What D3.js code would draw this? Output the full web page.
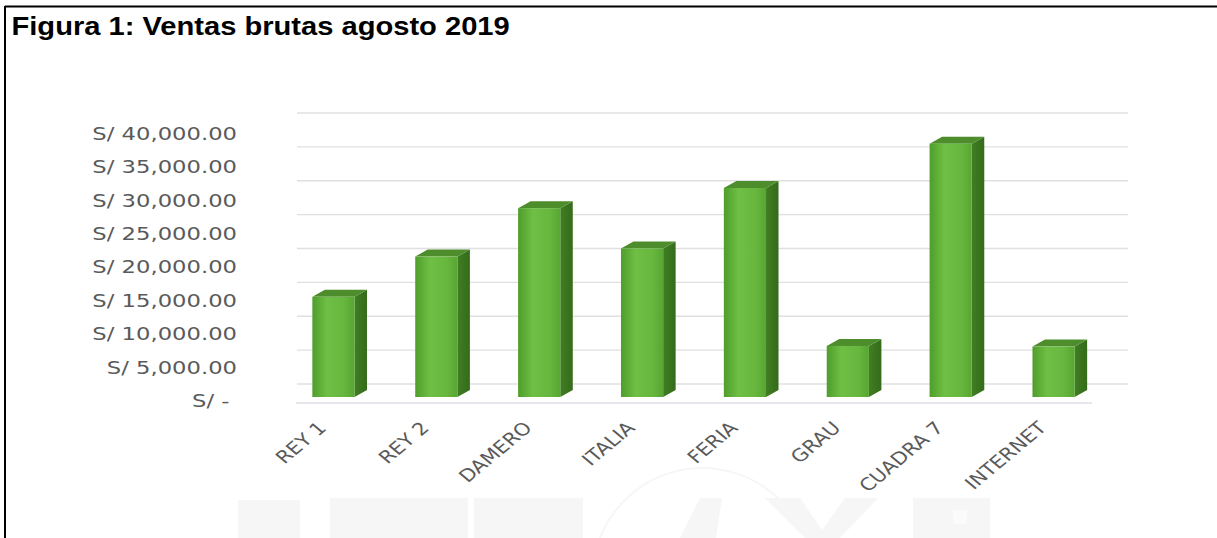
<!DOCTYPE html>
<html>
<head>
<meta charset="utf-8">
<script src="https://cdn.jsdelivr.net/npm/d3@7"></script>
<style>
  html, body { margin: 0; padding: 0; background: #ffffff; }
  svg { display: block; }
</style>
</head>
<body>
<svg id="chart" width="1217" height="538"></svg>
<script>
// Ventas brutas por tienda, agosto 2019 (soles)
const categories = ["REY 1", "REY 2", "DAMERO", "ITALIA", "FERIA", "GRAU", "CUADRA 7", "INTERNET"];
const ventas = [14900, 20900, 28100, 22100, 31100, 7600, 37700, 7500];
const yTicks = [0, 5000, 10000, 15000, 20000, 25000, 30000, 35000, 40000];
const titleText = "Figura 1: Ventas brutas agosto 2019";

const svg = d3.select("#chart");
const W = 1217, H = 538;

// frame (top and left rule)
svg.append("line").attr("x1", 5).attr("y1", 6.5).attr("x2", W).attr("y2", 6.5)
  .attr("stroke", "#000").attr("stroke-width", 2);
svg.append("line").attr("x1", 5).attr("y1", 6).attr("x2", 5).attr("y2", H)
  .attr("stroke", "#000").attr("stroke-width", 2);

// faint emblem behind the lower edge
const wm = svg.append("g").attr("fill", "#f6f6f6");
wm.append("path").attr("d", "M238,538 L238,500 L300,500 L300,538 Z");
wm.append("path").attr("d", "M330,538 L330,498 L468,498 L468,538 Z");
wm.append("path").attr("d", "M474,538 L474,498 L583,498 L583,538 Z");
wm.append("path").attr("d", "M680,538 L700,498 L722,498 L716,538 Z");
wm.append("path").attr("d", "M765,498 L800,498 L822,530 L845,498 L878,498 L840,538 L805,538 Z");
wm.append("path").attr("d", "M913,538 L913,498 L990,498 L990,538 Z");
svg.append("path").attr("d", "M600,538 A 110 110 0 0 1 780,500")
  .attr("fill", "none").attr("stroke", "#f6f6f6").attr("stroke-width", 2);
svg.append("rect").attr("x", 953).attr("y", 510).attr("width", 14).attr("height", 14).attr("fill", "#fbfbfb");

// title
svg.append("text")
  .attr("transform", "translate(11.5,35) scale(1.165,1)")
  .attr("font-family", "Liberation Sans, Arial, sans-serif")
  .attr("font-weight", "bold")
  .attr("font-size", 25)
  .attr("fill", "#000")
  .text(titleText);

// scales
const x = d3.scaleBand().domain(categories).range([282, 1105]).paddingInner(0.59).paddingOuter(0.295);
const yBar = d3.scaleLinear().domain([0, 40000]).range([397, 128.2]);
const yLab = d3.scaleLinear().domain([0, 40000]).range([400, 133]);
const yBack = d3.scaleLinear().domain([0, 40000]).range([384, 113]);

const depthX = 12.5, depthY = -7;

// back-wall gridlines
svg.append("g").selectAll("line").data(yTicks).join("line")
  .attr("x1", 297).attr("x2", 1128)
  .attr("y1", d => yBack(d)).attr("y2", d => yBack(d))
  .attr("stroke", "#e0e0e0").attr("stroke-width", 1.4);

// floor front edge
svg.append("line")
  .attr("x1", 296).attr("x2", 1092).attr("y1", 403).attr("y2", 403)
  .attr("stroke", "#dcdfe6").attr("stroke-width", 1.6);

// value axis labels
const fmt = d3.format(",.2f");
const yAxis = d3.axisLeft(yLab).tickValues(yTicks).tickSize(0).tickPadding(0)
  .tickFormat(d => d === 0 ? "S/ -" : "S/ " + fmt(d));
const gy = svg.append("g").attr("transform", "translate(237,0)").call(yAxis);
gy.select(".domain").remove();
gy.selectAll("text")
  .attr("x", 0).attr("dy", "0.36em")
  .attr("transform", "scale(1.26,1)")
  .attr("font-family", "DejaVu Sans, sans-serif")
  .attr("font-size", 18)
  .attr("fill", "#5a5a5a");
gy.selectAll(".tick").filter(d => d === 0).select("text").attr("x", -6);

// gradients for the column faces
const defs = svg.append("defs");
const gFront = defs.append("linearGradient").attr("id", "front").attr("x1", 0).attr("x2", 1).attr("y1", 0).attr("y2", 0);
gFront.append("stop").attr("offset", "0%").attr("stop-color", "#4f9d2b");
gFront.append("stop").attr("offset", "35%").attr("stop-color", "#6fbf45");
gFront.append("stop").attr("offset", "75%").attr("stop-color", "#67b63e");
gFront.append("stop").attr("offset", "100%").attr("stop-color", "#57a632");
const gSide = defs.append("linearGradient").attr("id", "side").attr("x1", 0).attr("x2", 1).attr("y1", 0).attr("y2", 0);
gSide.append("stop").attr("offset", "0%").attr("stop-color", "#3f7e22");
gSide.append("stop").attr("offset", "100%").attr("stop-color", "#356b1b");

const data = categories.map((c, i) => ({ c, v: ventas[i] }));
const bars = svg.append("g").selectAll("g").data(data).join("g");
const bw = x.bandwidth();

// right side face
bars.append("path")
  .attr("d", d => {
    const x1 = x(d.c) + bw, yt = yBar(d.v), yb = yBar(0);
    return `M${x1},${yt} L${x1 + depthX},${yt + depthY} L${x1 + depthX},${yb + depthY} L${x1},${yb} Z`;
  })
  .attr("fill", "url(#side)");
// top face
bars.append("path")
  .attr("d", d => {
    const x0 = x(d.c), yt = yBar(d.v);
    return `M${x0},${yt} L${x0 + depthX},${yt + depthY} L${x0 + bw + depthX},${yt + depthY} L${x0 + bw},${yt} Z`;
  })
  .attr("fill", "#4d8d2c");
// front face
bars.append("rect")
  .attr("x", d => x(d.c))
  .attr("y", d => yBar(d.v))
  .attr("width", bw)
  .attr("height", d => yBar(0) - yBar(d.v))
  .attr("fill", "url(#front)");

// category labels
svg.append("g").selectAll("text").data(categories).join("text")
  .attr("transform", d => `translate(${x(d) + bw / 2 - 6},429) scale(1.2,1) rotate(-45)`)
  .attr("text-anchor", "end")
  .attr("font-family", "DejaVu Sans, sans-serif")
  .attr("font-size", 17.5)
  .attr("fill", "#5a5a5a")
  .text(d => d);
</script>
</body>
</html>
